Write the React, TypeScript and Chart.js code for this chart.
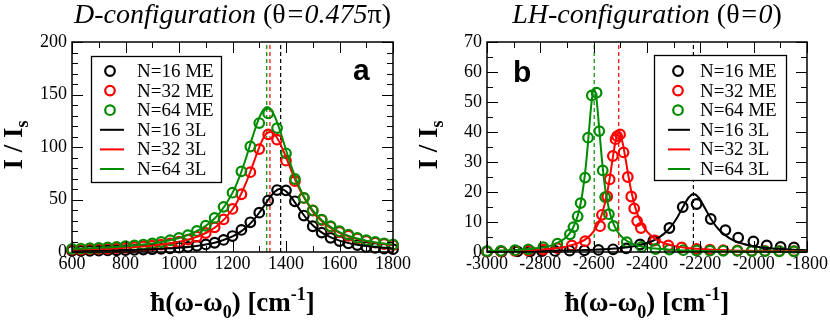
import React, { useEffect, useRef } from 'react';
import { Chart, registerables } from 'chart.js';

Chart.register(...registerables);

// ---------------- Panel a : D-configuration ----------------
const A_ME_X = [600, 633.3, 666.7, 700, 733.3, 766.7, 800, 833.3, 866.7, 900, 933.3, 966.7, 1000, 1033.3, 1066.7, 1100, 1133.3, 1166.7, 1200, 1233.3, 1266.7, 1300, 1333.3, 1366.7, 1400, 1433.3, 1466.7, 1500, 1533.3, 1566.7, 1600, 1633.3, 1666.7, 1700, 1733.3, 1766.7, 1800];
const A_ME_N16 = [1.0, 1.1, 1.2, 1.35, 1.5, 1.65, 1.85, 2.05, 2.3, 2.65, 3.05, 3.55, 4.15, 4.9, 5.9, 7.2, 8.8, 11.5, 15.2, 21, 28.3, 37.5, 49, 59, 58.7, 48.3, 34.7, 24.5, 18.5, 13.5, 10.5, 8.3, 6.6, 4.8, 3.9, 3.2, 2.7];
const A_ME_N32 = [2.2, 2.4, 2.7, 2.95, 3.3, 3.7, 4.1, 4.6, 5.3, 6.1, 7.0, 8.2, 9.8, 11.8, 14.5, 18.1, 23.5, 31, 41, 55, 76, 98, 112, 107, 87, 67.5, 51.5, 39.5, 30.5, 24, 19, 15.5, 12.8, 10.6, 8.9, 7.6, 6.5];
const A_ME_N64 = [3.0, 3.25, 3.55, 3.95, 4.4, 4.9, 5.5, 6.2, 7.1, 8.2, 9.5, 11.2, 13.4, 16.1, 20.0, 25.0, 32.5, 43, 56.5, 76.8, 100.5, 122.8, 132, 118, 94, 69.5, 51.5, 39.7, 30.9, 24.5, 19.8, 16.6, 13.5, 11.2, 9.6, 8.3, 7.2];

const A_3L_X = [600, 650, 700, 750, 800, 850, 900, 950, 1000, 1050, 1100, 1150, 1200, 1225, 1250, 1275, 1300, 1315, 1330, 1345, 1360, 1375, 1390, 1405, 1420, 1440, 1460, 1480, 1500, 1525, 1550, 1600, 1650, 1700, 1750, 1800];
const A_3L_N16 = [1.03, 1.17, 1.35, 1.56, 1.83, 2.18, 2.64, 3.26, 4.11, 5.33, 7.15, 10.0, 14.8, 18.4, 23.1, 29.4, 37.4, 42.9, 48.5, 53.8, 57.8, 59.9, 59.4, 56.7, 52.1, 44.8, 37.4, 30.9, 25.5, 20.1, 16.1, 10.8, 7.62, 5.63, 4.32, 3.41];
const A_3L_N32 = [2.22, 2.54, 2.95, 3.45, 4.10, 4.94, 6.06, 7.60, 9.79, 13.0, 18.1, 26.4, 40.7, 51.5, 65.5, 82.3, 99.7, 108.2, 113.5, 114.4, 111.2, 104.9, 96.5, 87.1, 77.6, 65.7, 55.3, 46.6, 38.5, 31.3, 25.8, 18.2, 13.5, 10.3, 8.1, 6.5];
const A_3L_N64 = [2.95, 3.40, 3.94, 4.62, 5.50, 6.65, 8.19, 10.3, 13.35, 17.9, 24.9, 36.5, 56.3, 70.9, 89.1, 109.6, 128, 135.4, 138, 135.4, 128, 117.6, 105.5, 93.1, 81.5, 67.7, 56.3, 47.1, 39.7, 32.4, 26.8, 19.0, 14.1, 10.8, 8.56, 6.92];
const A_PEAKS = [1380, 1340, 1328]; // N=16, 32, 64

const A_X_RANGE = [600, 1800];
const A_Y_RANGE = [0, 200];
const A_TICK_STEPS = { xMajor: 200, xMinor: 100, yMajor: 50, yMinor: 10 };

// ---------------- Panel b : LH-configuration ----------------
const B_ME_N16_X = [-3000, -2945, -2886, -2838, -2794, -2745, -2690, -2635, -2582, -2527, -2478, -2426, -2376, -2316, -2266, -2214, -2161, -2106, -2058, -2001, -1951, -1899, -1849];
const B_ME_N16_Y = [0.1, 0.15, 0.2, 0.25, 0.3, 0.35, 0.45, 0.55, 0.7, 0.9, 1.2, 2.5, 3.8, 8.0, 15.0, 16.0, 11.0, 7.3, 4.8, 3.5, 2.2, 1.7, 1.5];
const B_ME_N32_X = [-3000, -2948, -2895, -2845, -2789, -2736, -2682, -2632, -2576, -2569, -2549, -2540, -2528, -2518, -2512, -2501, -2488, -2472, -2459, -2448, -2437, -2423, -2370, -2320, -2270, -2214, -2164, -2114, -2061, -2007, -1958, -1904, -1849];
const B_ME_N32_Y = [0.2, 0.25, 0.35, 0.5, 0.8, 1.3, 2.2, 3.6, 8.6, 12.4, 18.5, 24.2, 32, 37.6, 38.6, 39.2, 33.2, 25, 18.5, 14.5, 10.3, 8.0, 3.9, 2.2, 1.5, 1.0, 0.8, 0.6, 0.5, 0.4, 0.35, 0.3, 0.3];
const B_ME_N64_X = [-3000, -2948, -2895, -2845, -2789, -2736, -2689, -2676, -2660, -2649, -2632, -2621, -2607, -2589, -2579, -2566, -2557, -2543, -2526, -2476, -2420, -2368, -2316, -2264, -2214, -2164, -2114, -2061, -2007, -1958, -1904, -1849];
const B_ME_N64_Y = [0.3, 0.35, 0.6, 0.9, 1.6, 2.8, 5.9, 8.3, 11.9, 16.3, 24.8, 38.1, 52.2, 53.1, 40.3, 27.2, 18.3, 12.6, 8.7, 3.3, 1.7, 1.0, 0.8, 0.6, 0.5, 0.45, 0.4, 0.35, 0.3, 0.3, 0.25, 0.25];

const B_3L_N16_X = [-3000, -2900, -2800, -2700, -2600, -2500, -2450, -2400, -2360, -2320, -2290, -2265, -2245, -2225, -2205, -2185, -2160, -2130, -2090, -2050, -2000, -1950, -1900, -1850, -1800];
const B_3L_N16_Y = [0.18, 0.24, 0.32, 0.47, 0.74, 1.34, 1.93, 3.0, 4.55, 7.41, 11.0, 15.0, 18.0, 19.3, 18.0, 15.0, 11.0, 7.41, 4.55, 3.0, 1.93, 1.34, 0.98, 0.74, 0.58];
const B_3L_N32_X = [-3000, -2900, -2800, -2750, -2700, -2650, -2620, -2600, -2580, -2565, -2550, -2540, -2530, -2520, -2512, -2506, -2500, -2490, -2480, -2470, -2460, -2445, -2430, -2410, -2380, -2350, -2300, -2250, -2200, -2100, -2000, -1900, -1800];
const B_3L_N32_Y = [0.30, 0.47, 0.83, 1.20, 1.86, 3.26, 4.96, 6.89, 10.0, 13.8, 19.4, 24.5, 30.4, 36.0, 39.0, 39.8, 39.2, 35.8, 30.8, 25.5, 20.7, 15.2, 11.3, 7.96, 5.04, 3.44, 2.05, 1.35, 0.96, 0.55, 0.36, 0.25, 0.18];
const B_3L_N64_X = [-3000, -2900, -2800, -2750, -2700, -2680, -2660, -2645, -2630, -2620, -2610, -2600, -2590, -2580, -2570, -2560, -2550, -2535, -2520, -2500, -2470, -2430, -2400, -2300, -2200, -2100, -2000, -1900, -1800];
const B_3L_N64_Y = [0.36, 0.64, 1.42, 2.45, 5.17, 7.6, 12.0, 18.0, 28.1, 37.7, 48.1, 54.3, 51.5, 42.0, 31.7, 23.4, 17.5, 11.7, 8.3, 5.55, 3.4, 2.03, 1.47, 0.66, 0.37, 0.24, 0.17, 0.12, 0.09];
const B_PEAKS = [-2226, -2506, -2598]; // N=16, 32, 64

const B_X_RANGE = [-3000, -1800];
const B_Y_RANGE = [0, 70];
const B_TICK_STEPS = { xMajor: 200, xMinor: 100, yMajor: 10, yMinor: 5 };

const LEGEND_LABELS = ['N=16 ME', 'N=32 ME', 'N=64 ME', 'N=16 3L', 'N=32 3L', 'N=64 3L'];

// ---------------- styles ----------------
const COLORS = ['#000000', '#ff0000', '#008b00'];
const SERIF = '"Liberation Serif", "Times New Roman", serif';
const SANS = '"Liberation Sans", Arial, sans-serif';
const CIRCLE_R = 4.8;
const CIRCLE_W = 2.2;

type Seg = { t: string; font: string; dy?: number };

function drawSegs(ctx: CanvasRenderingContext2D, segs: Seg[], cx: number, y: number) {
  let w = 0;
  for (const s of segs) { ctx.font = s.font; w += ctx.measureText(s.t).width; }
  let x = cx - w / 2;
  ctx.textAlign = 'left';
  ctx.textBaseline = 'alphabetic';
  for (const s of segs) {
    ctx.font = s.font;
    ctx.fillText(s.t, x, y + (s.dy || 0));
    x += ctx.measureText(s.t).width;
  }
}

type PanelSpec = {
  id: string;
  letter: string;
  letterX: number;
  letterY: number;
  title: Seg[];
  steps: { xMajor: number; xMinor: number; yMajor: number; yMinor: number };
  xRange: number[];
  yRange: number[];
  legend: { x: number; y: number; w: number; h: number; first: number; dy: number; sym: number; l0: number; l1: number; text: number };
  padRight: number;
};

function panelPlugin(p: PanelSpec) {
  return {
    id: 'panel_' + p.id,
    afterDatasetsDraw(chart: any) {
      const ctx: CanvasRenderingContext2D = chart.ctx;
      const a = chart.chartArea;
      const xs = chart.scales.x;
      const ys = chart.scales.y;
      ctx.save();
      ctx.strokeStyle = '#000';
      ctx.lineWidth = 1;
      const seg = (x1: number, y1: number, x2: number, y2: number) => {
        ctx.beginPath(); ctx.moveTo(x1, y1); ctx.lineTo(x2, y2); ctx.stroke();
      };
      const s = p.steps;
      const nx = Math.round((p.xRange[1] - p.xRange[0]) / s.xMinor);
      for (let i = 0; i <= nx; i++) {
        const off = i * s.xMinor;
        const major = off % s.xMajor === 0;
        const L = major ? 11 : 6;
        const px = Math.round(xs.getPixelForValue(p.xRange[0] + off)) + 0.5;
        seg(px, a.bottom, px, a.bottom - L);
        seg(px, a.top, px, a.top + L);
      }
      const ny = Math.round((p.yRange[1] - p.yRange[0]) / s.yMinor);
      for (let i = 0; i <= ny; i++) {
        const off = i * s.yMinor;
        const major = off % s.yMajor === 0;
        const L = major ? 11 : 6;
        const py = Math.round(ys.getPixelForValue(p.yRange[0] + off)) + 0.5;
        seg(a.left, py, a.left + L, py);
        seg(a.right, py, a.right - L, py);
      }
      ctx.lineWidth = 1.5;
      ctx.strokeRect(a.left, a.top, a.right - a.left, a.bottom - a.top);

      // legend
      const lg = p.legend;
      ctx.fillStyle = '#fff';
      ctx.fillRect(lg.x, lg.y, lg.w, lg.h);
      ctx.lineWidth = 1.3;
      ctx.strokeStyle = '#000';
      ctx.strokeRect(lg.x + 0.5, lg.y + 0.5, lg.w, lg.h);
      for (let i = 0; i < LEGEND_LABELS.length; i++) {
        const ry = lg.y + lg.first + i * lg.dy;
        const c = COLORS[i % 3];
        ctx.strokeStyle = c;
        if (i < 3) {
          ctx.lineWidth = CIRCLE_W;
          ctx.beginPath();
          ctx.arc(lg.x + lg.sym, ry, CIRCLE_R, 0, Math.PI * 2);
          ctx.stroke();
        } else {
          ctx.lineWidth = 2;
          seg(lg.x + lg.l0, ry, lg.x + lg.l1, ry);
        }
        ctx.fillStyle = '#000';
        ctx.font = '19px ' + SERIF;
        ctx.textAlign = 'left';
        ctx.textBaseline = 'middle';
        ctx.fillText(LEGEND_LABELS[i], lg.x + lg.text, ry + 1);
      }

      // panel letter
      ctx.fillStyle = '#000';
      ctx.font = 'bold 30px ' + SANS;
      ctx.textAlign = 'left';
      ctx.textBaseline = 'alphabetic';
      ctx.fillText(p.letter, p.letterX, p.letterY);
      ctx.restore();
    },
    afterDraw(chart: any) {
      const ctx: CanvasRenderingContext2D = chart.ctx;
      const a = chart.chartArea;
      const cx = (a.left + a.right) / 2;
      ctx.save();
      ctx.fillStyle = '#000';
      drawSegs(ctx, p.title, cx, 23);
      const big = 'bold 27px ' + SERIF;
      const small = 'bold 18px ' + SERIF;
      drawSegs(ctx, [
        { t: 'ħ(ω-ω', font: big },
        { t: '0', font: small, dy: 7 },
        { t: ') [cm', font: big },
        { t: '-1', font: small, dy: -11 },
        { t: ']', font: big },
      ], cx, 311);
      ctx.translate(22, (a.top + a.bottom) / 2 - 2);
      ctx.rotate(-Math.PI / 2);
      drawSegs(ctx, [
        { t: 'I / I', font: big },
        { t: 's', font: small, dy: 6 },
      ], 0, 0);
      ctx.restore();
    },
  };
}

function toPts(xs: number[], ys: number[]) {
  return xs.map((x, i) => ({ x, y: ys[i] }));
}

function buildDatasets(me: { x: number[]; y: number[] }[], tl: { x: number[]; y: number[] }[], peaks: number[], yMax: number) {
  const ds: any[] = [];
  peaks.forEach((p, i) => {
    ds.push({
      label: 'peak' + i,
      data: [{ x: p, y: 0 }, { x: p, y: yMax }],
      showLine: true,
      borderColor: COLORS[i],
      borderWidth: 1.2,
      borderDash: [4, 3],
      pointRadius: 0,
      order: 100 + i,
    });
  });
  me.forEach((s, i) => {
    ds.push({
      label: LEGEND_LABELS[i],
      data: toPts(s.x, s.y),
      showLine: false,
      pointStyle: 'circle',
      pointRadius: CIRCLE_R,
      borderWidth: CIRCLE_W,
      pointBorderWidth: CIRCLE_W,
      borderColor: COLORS[i],
      pointBorderColor: COLORS[i],
      backgroundColor: 'rgba(0,0,0,0)',
      pointBackgroundColor: 'rgba(0,0,0,0)',
      clip: false,
      order: 30 - i,
    });
  });
  tl.forEach((s, i) => {
    ds.push({
      label: LEGEND_LABELS[i + 3],
      data: toPts(s.x, s.y),
      showLine: true,
      borderColor: COLORS[i],
      borderWidth: 2,
      pointRadius: 0,
      cubicInterpolationMode: 'monotone',
      clip: false,
      order: 20 - i,
    });
  });
  return ds;
}

function makeConfig(p: PanelSpec, datasets: any[]) {
  const tickFont = { family: SERIF, size: 18 };
  return {
    type: 'scatter',
    data: { datasets },
    options: {
      animation: false,
      responsive: false,
      devicePixelRatio: 1,
      layout: { padding: { top: 42, right: p.padRight, left: 0, bottom: 0 } },
      plugins: { legend: { display: false }, tooltip: { enabled: false }, title: { display: false } },
      scales: {
        x: {
          type: 'linear',
          min: p.xRange[0],
          max: p.xRange[1],
          ticks: {
            stepSize: p.steps.xMajor,
            color: '#000',
            font: tickFont,
            padding: 1,
            maxRotation: 0,
            autoSkip: false,
            callback: (v: any) => String(v),
          },
          grid: { display: false, drawTicks: false },
          border: { display: false },
          afterFit: (s: any) => { s.height = 72; },
        },
        y: {
          type: 'linear',
          min: p.yRange[0],
          max: p.yRange[1],
          ticks: {
            stepSize: p.steps.yMajor,
            color: '#000',
            font: tickFont,
            padding: 5,
            autoSkip: false,
            callback: (v: any) => String(v),
          },
          grid: { display: false, drawTicks: false },
          border: { display: false },
          afterFit: (s: any) => { s.width = 72; },
        },
      },
    },
    plugins: [panelPlugin(p)],
  };
}

const italic = 'italic 28px ' + SERIF;
const upright = '28px ' + SERIF;

const PANEL_A: PanelSpec = {
  id: 'a',
  letter: 'a',
  letterX: 353,
  letterY: 80,
  title: [
    { t: 'D-configuration ', font: italic },
    { t: '(θ', font: upright },
    { t: '=0.475', font: italic },
    { t: 'π)', font: upright },
  ],
  steps: A_TICK_STEPS,
  xRange: A_X_RANGE,
  yRange: A_Y_RANGE,
  legend: { x: 91, y: 56, w: 130, h: 126, first: 15, dy: 19.6, sym: 19, l0: 9, l1: 33, text: 46 },
  padRight: 22,
};

const PANEL_B: PanelSpec = {
  id: 'b',
  letter: 'b',
  letterX: 98,
  letterY: 82,
  title: [
    { t: 'LH-configuration ', font: italic },
    { t: '(θ', font: upright },
    { t: '=0', font: italic },
    { t: ')', font: upright },
  ],
  steps: B_TICK_STEPS,
  xRange: B_X_RANGE,
  yRange: B_Y_RANGE,
  legend: { x: 239, y: 55, w: 132, h: 125, first: 16, dy: 19.6, sym: 24, l0: 14, l1: 36, text: 46 },
  padRight: 23,
};

export default function App() {
  const refA = useRef<HTMLCanvasElement>(null);
  const refB = useRef<HTMLCanvasElement>(null);

  useEffect(() => {
    const dsA = buildDatasets(
      [{ x: A_ME_X, y: A_ME_N16 }, { x: A_ME_X, y: A_ME_N32 }, { x: A_ME_X, y: A_ME_N64 }],
      [{ x: A_3L_X, y: A_3L_N16 }, { x: A_3L_X, y: A_3L_N32 }, { x: A_3L_X, y: A_3L_N64 }],
      A_PEAKS,
      A_Y_RANGE[1],
    );
    const dsB = buildDatasets(
      [{ x: B_ME_N16_X, y: B_ME_N16_Y }, { x: B_ME_N32_X, y: B_ME_N32_Y }, { x: B_ME_N64_X, y: B_ME_N64_Y }],
      [{ x: B_3L_N16_X, y: B_3L_N16_Y }, { x: B_3L_N32_X, y: B_3L_N32_Y }, { x: B_3L_N64_X, y: B_3L_N64_Y }],
      B_PEAKS,
      B_Y_RANGE[1],
    );
    const cA = new Chart(refA.current as HTMLCanvasElement, makeConfig(PANEL_A, dsA) as any);
    const cB = new Chart(refB.current as HTMLCanvasElement, makeConfig(PANEL_B, dsB) as any);
    return () => { cA.destroy(); cB.destroy(); };
  }, []);

  return (
    <div style={{ position: 'fixed', left: 0, top: 0, width: 830, height: 324, background: '#fff' }}>
      <canvas ref={refA} width={415} height={324} style={{ position: 'absolute', left: 0, top: 0, width: 415, height: 324 }} />
      <canvas ref={refB} width={415} height={324} style={{ position: 'absolute', left: 415, top: 0, width: 415, height: 324 }} />
    </div>
  );
}
